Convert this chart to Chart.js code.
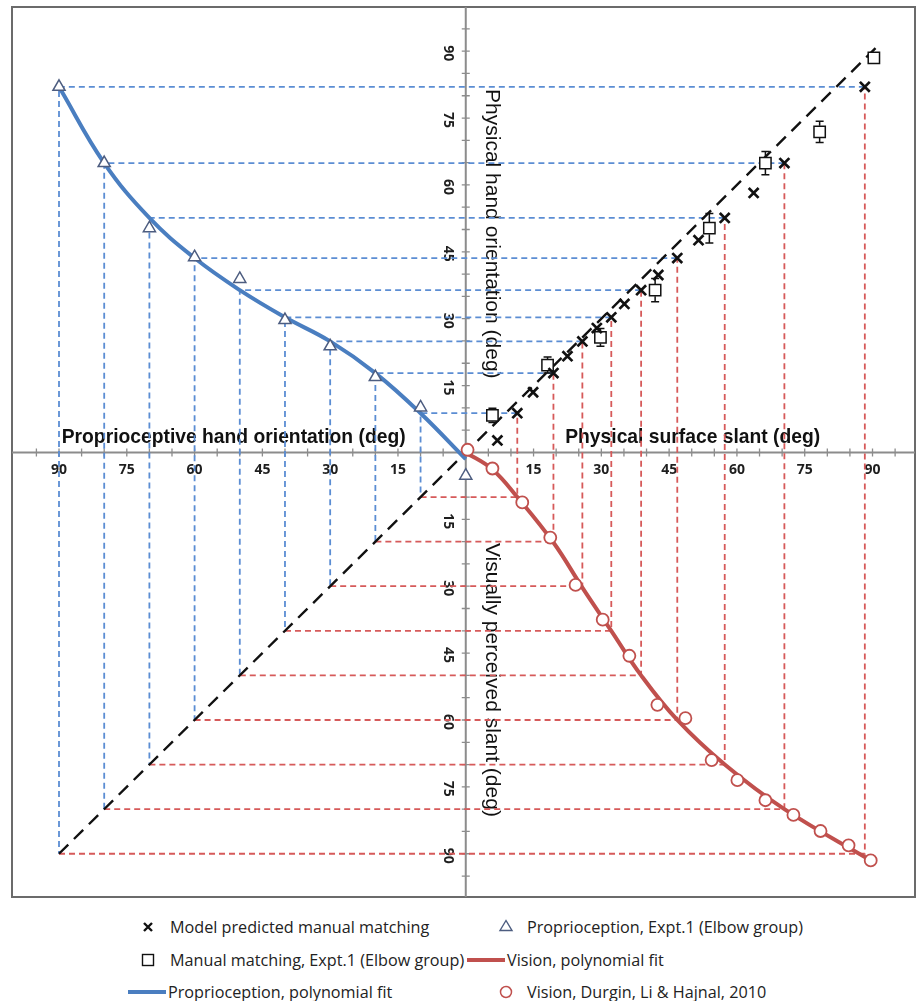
<!DOCTYPE html>
<html>
<head>
<meta charset="utf-8">
<script src="https://cdn.jsdelivr.net/npm/chart.js@4.4.1/dist/chart.umd.min.js"></script>
<style>
  html, body { margin: 0; padding: 0; background: #fff; }
  #wrap { position: relative; width: 919px; height: 1001px; overflow: hidden; }
  #chart { position: absolute; left: 0; top: 0; }
  .item { position: absolute; display: flex; align-items: center; height: 22px; white-space: nowrap;
          font-family: "Open Sans", sans-serif; font-size: 16.2px; color: #222; }
  .item svg { display: block; flex: none; }
</style>
</head>
<body>
<div id="wrap">
  <canvas id="chart" width="919" height="905"></canvas>

  <div class="item" style="left:138px; top:916px;">
    <svg width="20" height="20"><path d="M6 6 L14 14 M14 6 L6 14" stroke="#111" stroke-width="2.4"/></svg>
    <span style="margin-left:12px">Model predicted manual matching</span>
  </div>
  <div class="item" style="left:496px; top:916px;">
    <svg width="20" height="20"><path d="M10 3.5 L16 13.5 L4 13.5 Z" fill="#fff" stroke="#4d5d80" stroke-width="1.4"/></svg>
    <span style="margin-left:11px">Proprioception, Expt.1 (Elbow group)</span>
  </div>
  <div class="item" style="left:138px; top:949px;">
    <svg width="20" height="20"><rect x="4.5" y="4.5" width="11" height="11" fill="#fff" stroke="#111" stroke-width="1.4"/></svg>
    <span style="margin-left:12px">Manual matching, Expt.1 (Elbow group)</span>
  </div>
  <div class="item" style="left:467px; top:949px;">
    <svg width="38" height="20"><path d="M0 10 L38 10" stroke="#c0504d" stroke-width="4"/></svg>
    <span style="margin-left:2px">Vision, polynomial fit</span>
  </div>
  <div class="item" style="left:128px; top:981px;">
    <svg width="38" height="20"><path d="M0 10 L38 10" stroke="#4a7ec0" stroke-width="4"/></svg>
    <span style="margin-left:2px">Proprioception, polynomial fit</span>
  </div>
  <div class="item" style="left:496px; top:981px;">
    <svg width="20" height="20"><circle cx="10" cy="10" r="5.5" fill="#fff" stroke="#c0504d" stroke-width="1.5"/></svg>
    <span style="margin-left:11px">Vision, Durgin, Li &amp; Hajnal, 2010</span>
  </div>
</div>

<script>
// axis tick labels (shown on every half-axis)
const tickLabels = [15, 30, 45, 60, 75, 90];

// model predicted manual matching (x = physical slant, y = hand orientation)
const modelSlant = [7.0, 11.4, 14.9, 19.4, 22.5, 25.8, 29.0, 32.2, 35.1, 38.8, 42.6, 46.8, 51.5, 57.3, 63.7, 70.5, 88.3];
const modelHand = [2.7, 8.8, 13.5, 17.8, 21.6, 24.9, 27.9, 30.3, 33.3, 36.4, 39.8, 43.6, 47.6, 52.6, 58.2, 64.9, 82.0];

// manual matching, Expt.1 (Elbow group), with error
const manualSlant = [5.9, 18.1, 29.8, 41.9, 53.9, 66.3, 78.3, 90.3];
const manualHand = [8.3, 19.6, 25.8, 36.4, 50.3, 64.9, 71.9, 88.5];
const manualErr = [1.6, 1.8, 2.0, 2.6, 3.3, 2.6, 2.4, 0.5];

// proprioception, Expt.1 (Elbow group)
const propOrient = [90, 80, 70, 60, 50, 40, 30, 20, 10, 0];
const propHand = [82.0, 64.9, 50.3, 43.8, 38.9, 29.7, 23.8, 16.9, 10.1, -5.2];

// proprioception, polynomial fit
const propFitOrient = [90, 80, 70, 60, 50, 40, 30, 20, 10, 0];
const propFitHand = [82.0, 64.9, 52.6, 43.6, 36.4, 30.3, 24.9, 17.8, 8.8, -1.5];

// vision, Durgin, Li & Hajnal 2010 (x = physical slant, perceived slant)
const visSlant = [0.4, 5.9, 12.5, 18.7, 24.3, 30.3, 36.2, 42.4, 48.6, 54.4, 60.1, 66.3, 72.5, 78.5, 84.7, 89.6];
const visPerceived = [-0.6, 3.6, 11.2, 19.1, 29.7, 37.5, 45.6, 56.6, 59.6, 69.0, 73.5, 78.0, 81.3, 84.9, 88.1, 91.5];

// vision, polynomial fit
const visFitSlant = [0, 5.9, 11.4, 19.4, 25.8, 32.2, 38.8, 46.8, 57.3, 70.5, 89.6];
const visFitPerceived = [0, 3.8, 10, 20.2, 30.3, 40, 50, 60, 70, 80, 91.5];

// projection guides
const chainOrient = [90, 80, 70, 60, 50, 40, 30, 20, 10];
const chainHand = [82.0, 64.9, 52.6, 43.6, 36.4, 30.3, 24.9, 17.8, 8.8];
const chainSlant = [88.3, 70.5, 57.3, 46.8, 38.8, 32.2, 25.8, 19.4, 11.4];

// identity diagonal
const diagX = [-90, 91.5];
const diagY = [-90, 91.5];

const pts = (xs, ys) => xs.map((x, i) => ({ x: x, y: ys[i] }));

const blueGuides = chainOrient.map((p, i) => ({
  data: [{ x: chainSlant[i], y: chainHand[i] }, { x: -p, y: chainHand[i] }, { x: -p, y: -p }],
  showLine: true, borderColor: '#5b8dd3', borderWidth: 1.8, borderDash: [6, 4],
  pointRadius: 0, order: 5
}));

const redGuides = chainOrient.map((p, i) => ({
  data: [{ x: -p, y: -p }, { x: chainSlant[i], y: -p }, { x: chainSlant[i], y: chainHand[i] }],
  showLine: true, borderColor: '#d65a5a', borderWidth: 1.8, borderDash: [6, 4],
  pointRadius: 0, order: 4
}));

const quadAxes = {
  id: 'quadAxes',
  beforeDatasetsDraw(chart) {
    const { ctx, chartArea: a, scales: { x, y } } = chart;
    const x0 = x.getPixelForValue(0);
    const y0 = y.getPixelForValue(0);
    ctx.save();

    ctx.strokeStyle = '#6b6b6b';
    ctx.lineWidth = 2;
    ctx.strokeRect(a.left, a.top, a.width, a.height);

    ctx.strokeStyle = '#8c8c8c';
    ctx.beginPath();
    ctx.moveTo(a.left, y0); ctx.lineTo(a.right, y0);
    ctx.moveTo(x0, a.top); ctx.lineTo(x0, a.bottom);
    ctx.stroke();

    ctx.lineWidth = 1.3;
    ctx.beginPath();
    for (let v = -95; v <= 95; v += 5) {
      if (v === 0) continue;
      const px = x.getPixelForValue(v), py = y.getPixelForValue(v);
      ctx.moveTo(px, y0 - 4); ctx.lineTo(px, y0 + 4);
      ctx.moveTo(x0 - 4, py); ctx.lineTo(x0 + 4, py);
    }
    ctx.stroke();

    ctx.fillStyle = '#1e1e1e';
    ctx.font = 'bold 14px "Open Sans", sans-serif';
    ctx.textAlign = 'center';
    ctx.textBaseline = 'middle';
    tickLabels.forEach(v => {
      [v, -v].forEach(t => {
        ctx.fillText(String(v), x.getPixelForValue(t), y0 + 18);
        ctx.save();
        ctx.translate(x0 - 18, y.getPixelForValue(t) + 2);
        ctx.rotate(Math.PI / 2);
        ctx.fillText(String(v), 0, 0);
        ctx.restore();
      });
    });

    ctx.fillStyle = '#111';
    ctx.textAlign = 'left';
    ctx.font = 'bold 19.3px "Liberation Sans", Arial, sans-serif';
    ctx.fillText('Proprioceptive hand orientation (deg)', x.getPixelForValue(-89.4), y0 - 15);
    ctx.fillText('Physical surface slant (deg)', x.getPixelForValue(22), y0 - 15);

    ctx.font = '21px "Liberation Sans", Arial, sans-serif';
    ctx.save();
    ctx.translate(x0 + 26, y.getPixelForValue(81.5));
    ctx.rotate(Math.PI / 2);
    ctx.fillText('Physical hand orientation (deg)', 0, 0);
    ctx.restore();
    ctx.save();
    ctx.translate(x0 + 26, y.getPixelForValue(-20.3));
    ctx.rotate(Math.PI / 2);
    ctx.fillText('Visually perceived slant (deg)', 0, 0);
    ctx.restore();

    ctx.restore();
  },
  afterDatasetsDraw(chart) {
    const { ctx, scales: { x, y } } = chart;
    ctx.save();
    ctx.strokeStyle = '#111';
    ctx.lineWidth = 1.5;
    const half = 6;
    manualSlant.forEach((s, i) => {
      const px = x.getPixelForValue(s);
      const c = y.getPixelForValue(manualHand[i]);
      const top = y.getPixelForValue(manualHand[i] + manualErr[i]);
      const bot = y.getPixelForValue(manualHand[i] - manualErr[i]);
      ctx.beginPath();
      if (c - top > half) {
        ctx.moveTo(px, c - half); ctx.lineTo(px, top);
        ctx.moveTo(px - 4, top); ctx.lineTo(px + 4, top);
      }
      if (bot - c > half) {
        ctx.moveTo(px, c + half); ctx.lineTo(px, bot);
        ctx.moveTo(px - 4, bot); ctx.lineTo(px + 4, bot);
      }
      ctx.stroke();
    });
    ctx.restore();
  }
};

new Chart(document.getElementById('chart'), {
  type: 'scatter',
  data: {
    datasets: [
      {
        label: 'Model predicted manual matching',
        data: pts(modelSlant, modelHand),
        pointStyle: 'crossRot', pointRadius: 7, borderColor: '#111', borderWidth: 2.7, order: 0
      },
      {
        label: 'Manual matching, Expt.1 (Elbow group)',
        data: pts(manualSlant, manualHand),
        pointStyle: 'rect', pointRadius: 8, borderColor: '#111', backgroundColor: '#fff', borderWidth: 1.5, order: 0
      },
      {
        label: 'Proprioception, Expt.1 (Elbow group)',
        data: pts(propOrient.map(v => -v), propHand),
        pointStyle: 'triangle', pointRadius: 7, borderColor: '#4d5d80', backgroundColor: '#fff', borderWidth: 1.5, order: 0
      },
      {
        label: 'Vision, Durgin, Li & Hajnal, 2010',
        data: pts(visSlant, visPerceived.map(v => -v)),
        pointStyle: 'circle', pointRadius: 6, borderColor: '#c0504d', backgroundColor: '#fff', borderWidth: 1.8, order: 0
      },
      {
        label: 'Proprioception, polynomial fit',
        data: pts(propFitOrient.map(v => -v), propFitHand),
        showLine: true, borderColor: '#4a7ec0', borderWidth: 4, pointRadius: 0,
        tension: 0.4, order: 2
      },
      {
        label: 'Vision, polynomial fit',
        data: pts(visFitSlant, visFitPerceived.map(v => -v)),
        showLine: true, borderColor: '#c0504d', borderWidth: 4, pointRadius: 0,
        tension: 0.4, order: 2
      },
      {
        label: 'Identity',
        data: pts(diagX, diagY),
        showLine: true, borderColor: '#111', borderWidth: 2.4, borderDash: [13, 8], pointRadius: 0, order: 3
      },
      ...blueGuides,
      ...redGuides
    ]
  },
  options: {
    responsive: false,
    animation: false,
    events: [],
    layout: { autoPadding: false, padding: { left: 12, right: 4, top: 7, bottom: 8 } },
    plugins: { legend: { display: false }, tooltip: { enabled: false } },
    scales: {
      x: { type: 'linear', min: -100.4, max: 99.4, display: false },
      y: { type: 'linear', min: -99.7, max: 99.9, display: false }
    }
  },
  plugins: [quadAxes]
});
</script>
</body>
</html>
